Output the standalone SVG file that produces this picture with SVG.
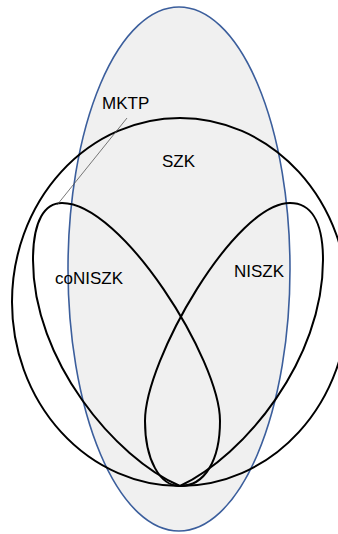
<svg xmlns="http://www.w3.org/2000/svg" width="338" height="534" viewBox="0 0 338 534">
<style>
.set{fill:none;stroke:#000;stroke-width:2}
.lbl{font-family:"Liberation Sans",Arial,sans-serif;font-size:17px;fill:#000}
.lead{fill:none;stroke:#555;stroke-width:0.8}
</style>
<rect width="338" height="534" fill="#fff"/>
<g id="MKTP">
<ellipse cx="179" cy="269" rx="111" ry="262" fill="#f0f0f0" stroke="#3b5e9c" stroke-width="1.6"/>
<text class="lbl" x="102" y="109">MKTP</text>
</g>
<g id="SZK">
<ellipse class="set" cx="180" cy="302" rx="168" ry="184"/>
<text class="lbl" x="162" y="167">SZK</text>
</g>
<g id="coNISZK">
<path class="set" d="M180,486 C115,458 33,360 33,260 C33,220 45,203 62,203 C122,203 220,360 220,421 C220,460 205,486 180,486 Z"/>
<text class="lbl" x="55" y="284">coNISZK</text>
</g>
<g id="NISZK">
<path class="set" d="M180,486 C245,455 323,360 323,260 C323,220 310,203 290,203 C235,203 145,360 145,421 C145,460 160,486 180,486 Z"/>
<text class="lbl" x="234" y="277">NISZK</text>
</g>
<g id="connectors">
<line class="lead" x1="127" y1="118" x2="57" y2="205"/>
</g>
</svg>
